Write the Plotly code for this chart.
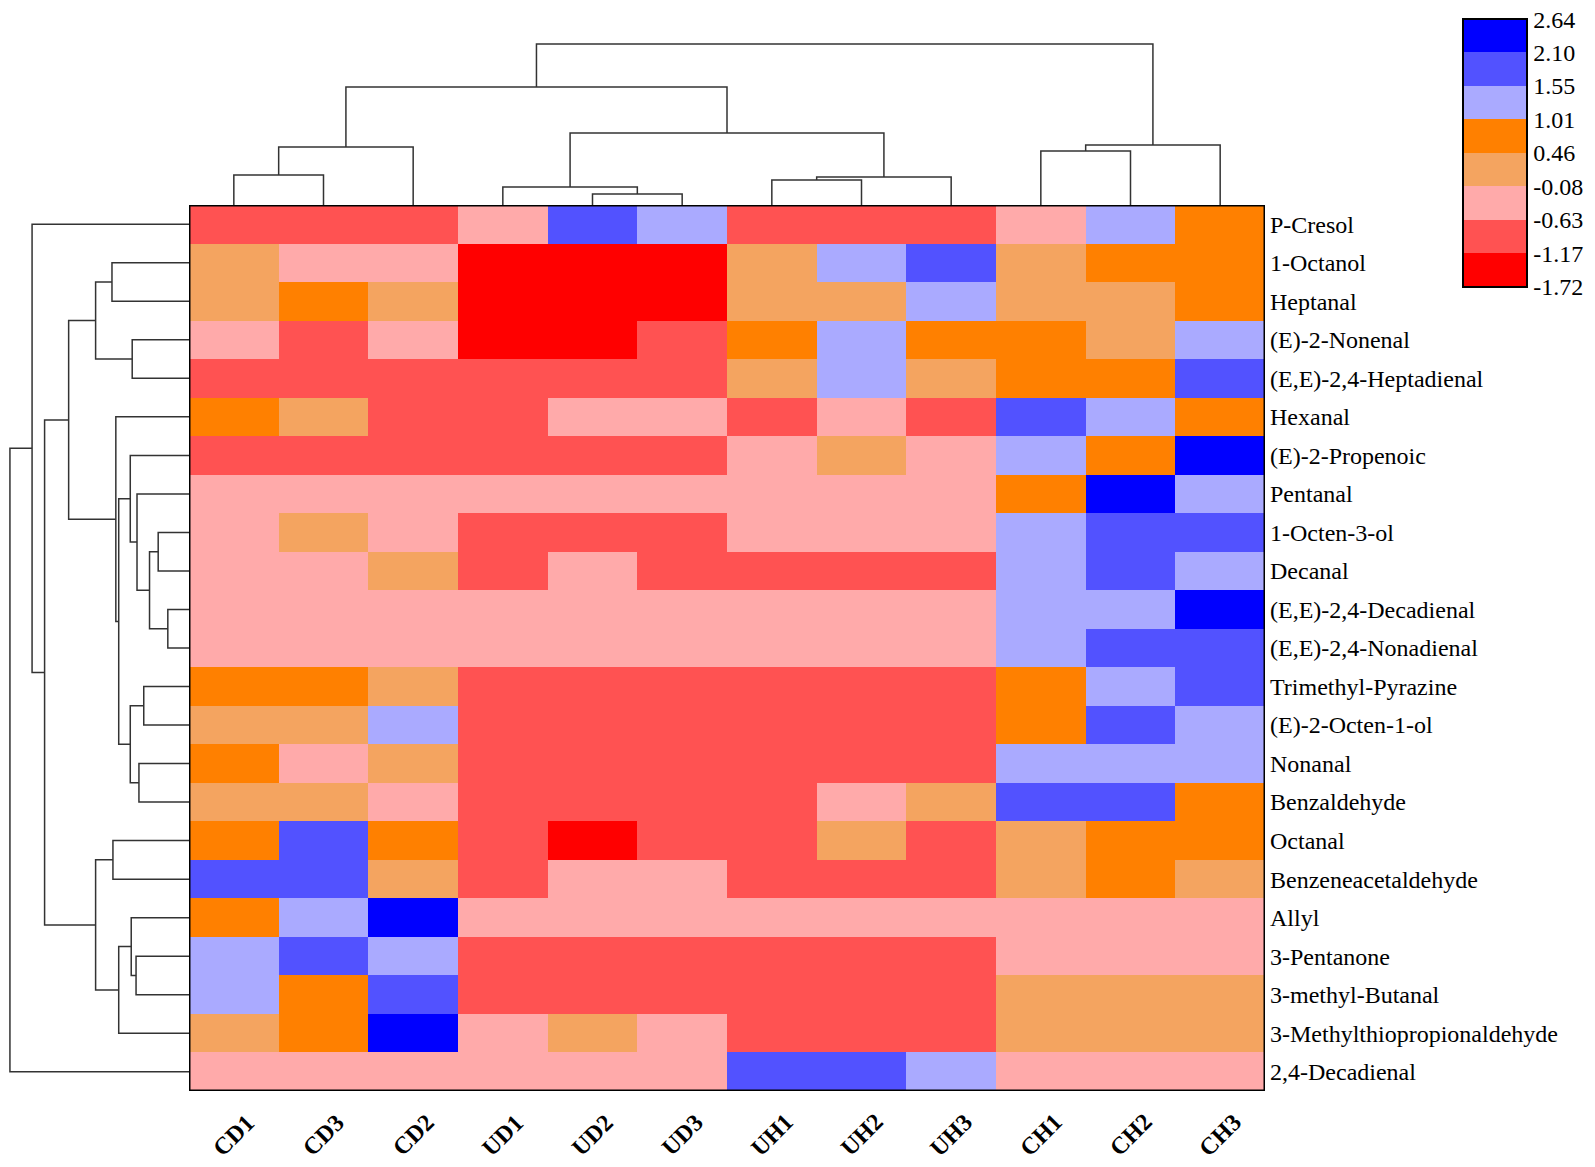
import plotly.graph_objects as go

# samples (columns, in dendrogram order) and compounds (rows)
samples = ["CD1", "CD3", "CD2", "UD1", "UD2", "UD3",
           "UH1", "UH2", "UH3", "CH1", "CH2", "CH3"]
compounds = ["P-Cresol", "1-Octanol", "Heptanal", "(E)-2-Nonenal",
             "(E,E)-2,4-Heptadienal", "Hexanal", "(E)-2-Propenoic", "Pentanal",
             "1-Octen-3-ol", "Decanal", "(E,E)-2,4-Decadienal",
             "(E,E)-2,4-Nonadienal", "Trimethyl-Pyrazine", "(E)-2-Octen-1-ol",
             "Nonanal", "Benzaldehyde", "Octanal", "Benzeneacetaldehyde",
             "Allyl", "3-Pentanone", "3-methyl-Butanal",
             "3-Methylthiopropionaldehyde", "2,4-Decadienal"]

# colour classes of the legend
bounds = [-1.72, -1.17, -0.63, -0.08, 0.46, 1.01, 1.55, 2.10, 2.64]
colours = ["#ff0000", "#ff5252", "#ffaaaa", "#f4a460",
           "#ff8000", "#aaaaff", "#5252ff", "#0000ff"]

# standardised values (estimated from the colour class of each cell)
z = [
    [-0.90, -0.90, -0.90, -0.36, 1.83, 1.28, -0.90, -0.90, -0.90, -0.36, 1.28, 0.74],
    [0.19, -0.36, -0.36, -1.45, -1.45, -1.45, 0.19, 1.28, 1.83, 0.19, 0.74, 0.74],
    [0.19, 0.74, 0.19, -1.45, -1.45, -1.45, 0.19, 0.19, 1.28, 0.19, 0.19, 0.74],
    [-0.36, -0.90, -0.36, -1.45, -1.45, -0.90, 0.74, 1.28, 0.74, 0.74, 0.19, 1.28],
    [-0.90, -0.90, -0.90, -0.90, -0.90, -0.90, 0.19, 1.28, 0.19, 0.74, 0.74, 1.83],
    [0.74, 0.19, -0.90, -0.90, -0.36, -0.36, -0.90, -0.36, -0.90, 1.83, 1.28, 0.74],
    [-0.90, -0.90, -0.90, -0.90, -0.90, -0.90, -0.36, 0.19, -0.36, 1.28, 0.74, 2.37],
    [-0.36, -0.36, -0.36, -0.36, -0.36, -0.36, -0.36, -0.36, -0.36, 0.74, 2.37, 1.28],
    [-0.36, 0.19, -0.36, -0.90, -0.90, -0.90, -0.36, -0.36, -0.36, 1.28, 1.83, 1.83],
    [-0.36, -0.36, 0.19, -0.90, -0.36, -0.90, -0.90, -0.90, -0.90, 1.28, 1.83, 1.28],
    [-0.36, -0.36, -0.36, -0.36, -0.36, -0.36, -0.36, -0.36, -0.36, 1.28, 1.28, 2.37],
    [-0.36, -0.36, -0.36, -0.36, -0.36, -0.36, -0.36, -0.36, -0.36, 1.28, 1.83, 1.83],
    [0.74, 0.74, 0.19, -0.90, -0.90, -0.90, -0.90, -0.90, -0.90, 0.74, 1.28, 1.83],
    [0.19, 0.19, 1.28, -0.90, -0.90, -0.90, -0.90, -0.90, -0.90, 0.74, 1.83, 1.28],
    [0.74, -0.36, 0.19, -0.90, -0.90, -0.90, -0.90, -0.90, -0.90, 1.28, 1.28, 1.28],
    [0.19, 0.19, -0.36, -0.90, -0.90, -0.90, -0.90, -0.36, 0.19, 1.83, 1.83, 0.74],
    [0.74, 1.83, 0.74, -0.90, -1.45, -0.90, -0.90, 0.19, -0.90, 0.19, 0.74, 0.74],
    [1.83, 1.83, 0.19, -0.90, -0.36, -0.36, -0.90, -0.90, -0.90, 0.19, 0.74, 0.19],
    [0.74, 1.28, 2.37, -0.36, -0.36, -0.36, -0.36, -0.36, -0.36, -0.36, -0.36, -0.36],
    [1.28, 1.83, 1.28, -0.90, -0.90, -0.90, -0.90, -0.90, -0.90, -0.36, -0.36, -0.36],
    [1.28, 0.74, 1.83, -0.90, -0.90, -0.90, -0.90, -0.90, -0.90, 0.19, 0.19, 0.19],
    [0.19, 0.74, 2.37, -0.36, 0.19, -0.36, -0.90, -0.90, -0.90, 0.19, 0.19, 0.19],
    [-0.36, -0.36, -0.36, -0.36, -0.36, -0.36, 1.83, 1.83, 1.28, -0.36, -0.36, -0.36],
]

# linkage of the samples: (node a, node b, distance); new nodes numbered from 12
col_merges = [(0, 1, 30), (12, 2, 58), (4, 5, 11), (3, 14, 18), (6, 7, 25),
              (16, 8, 28), (15, 17, 72), (13, 18, 118), (9, 10, 54),
              (20, 11, 60), (19, 21, 161)]
# linkage of the compounds; new nodes numbered from 23
row_merges = [(10, 11, 22), (8, 9, 32), (24, 23, 41), (7, 25, 54), (6, 26, 61),
              (12, 13, 47), (14, 15, 52), (28, 29, 61), (27, 30, 73),
              (5, 31, 76), (1, 2, 80), (3, 4, 59), (33, 34, 97), (35, 32, 125),
              (16, 17, 79), (19, 20, 55), (18, 38, 60), (39, 21, 73),
              (37, 40, 97), (36, 41, 150), (0, 42, 163), (43, 22, 186)]


def dendro(merges, n):
    pos = list(range(n))
    hgt = [0] * n
    p, h = [], []
    for a, b, d in merges:
        p += [pos[a], pos[a], pos[b], pos[b], None]
        h += [hgt[a], d, d, hgt[b], None]
        pos.append((pos[a] + pos[b]) / 2)
        hgt.append(d)
    return p, h


W, H = 1595, 1167
OFF = 8  # page margin of the html body


def px(x):
    return (x - OFF) / W


def py(y):
    return 1 - (y - OFF) / H


hx0, hx1 = px(189), px(1265)
hy0, hy1 = py(1091), py(205)
serif = "Liberation Serif"

span = bounds[-1] - bounds[0]
cscale = []
for i, c in enumerate(colours):
    cscale.append([(bounds[i] - bounds[0]) / span, c])
    cscale.append([(bounds[i + 1] - bounds[0]) / span, c])
tick_at = [bounds[0] + 0.002] + bounds[1:-1] + [bounds[-1] - 0.002]

fig = go.Figure()
fig.add_trace(go.Heatmap(
    z=z, x=list(range(len(samples))), y=list(range(len(compounds))),
    zmin=bounds[0], zmax=bounds[-1], colorscale=cscale,
    colorbar=dict(thickness=64, thicknessmode="pixels",
                  len=268, lenmode="pixels",
                  x=px(1463), xanchor="left", y=py(19), yanchor="top",
                  tickvals=tick_at, ticktext=[f"{b:.2f}" for b in bounds],
                  ticks="", outlinecolor="black", outlinewidth=2,
                  xpad=0, ypad=0, ticklabeloverflow="allow",
                  tickfont=dict(family=serif, size=24, color="black")),
))

cp, ch = dendro(col_merges, len(samples))
fig.add_trace(go.Scatter(x=cp, y=ch, mode="lines", xaxis="x2", yaxis="y2",
                         line=dict(color="#333333", width=1.5),
                         hoverinfo="skip", showlegend=False))
rp, rh = dendro(row_merges, len(compounds))
fig.add_trace(go.Scatter(x=rh, y=rp, mode="lines", xaxis="x3", yaxis="y3",
                         line=dict(color="#333333", width=1.5),
                         hoverinfo="skip", showlegend=False))

# sample names, rotated under the heatmap
for i, s in enumerate(samples):
    fig.add_annotation(x=i, xref="x", y=py(1135), yref="paper",
                       text=s, textangle=-45, showarrow=False,
                       xanchor="center", yanchor="middle",
                       font=dict(family=serif, size=24, color="black",
                                 weight="bold"))

fig.add_shape(type="rect", xref="x", yref="y", x0=-0.5, x1=11.5, y0=-0.5,
              y1=22.5, line=dict(color="black", width=3))

fig.update_layout(
    width=W, height=H, margin=dict(l=0, r=0, t=0, b=0),
    paper_bgcolor="white", plot_bgcolor="white",
    xaxis=dict(domain=[hx0, hx1], range=[-0.5, 11.5], showticklabels=False,
               showgrid=False, zeroline=False),
    yaxis=dict(domain=[hy0, hy1], range=[22.5, -0.5], side="right",
               tickvals=list(range(len(compounds))), ticktext=compounds,
               ticklabelstandoff=4, showgrid=False, zeroline=False,
               tickfont=dict(family=serif, size=24, color="black")),
    xaxis2=dict(domain=[hx0, hx1], range=[-0.5, 11.5], anchor="y2",
                visible=False),
    yaxis2=dict(domain=[hy1, 1], range=[0, 205 - OFF], anchor="x2",
                visible=False),
    xaxis3=dict(domain=[0, hx0], range=[188, 0], anchor="y3",
                visible=False),
    yaxis3=dict(domain=[hy0, hy1], range=[22.5, -0.5], anchor="x3",
                visible=False),
)

fig.write_html("out.html")
